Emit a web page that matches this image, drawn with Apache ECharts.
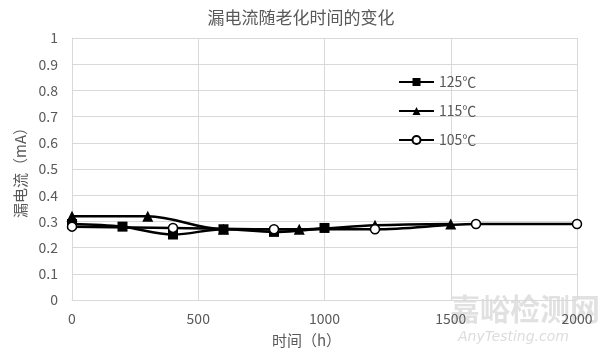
<!DOCTYPE html>
<html><head><meta charset="utf-8">
<script src="https://cdn.jsdelivr.net/npm/echarts@6/dist/echarts.min.js"></script>
<style>html,body{margin:0;padding:0;background:#fff}#c{width:602px;height:356px}</style>
</head><body><div id="c"></div>
<script>
var title = '漏电流随老化时间的变化';
var xName = '时间（h）';
var yName = '漏电流（mA）';
var names = ['125℃', '115℃', '105℃'];
var x125 = [0, 200, 400, 600, 800, 1000];
var y125 = [0.29, 0.28, 0.25, 0.27, 0.26, 0.275];
var x115 = [0, 300, 600, 900, 1200, 1500];
var y115 = [0.32, 0.32, 0.27, 0.27, 0.285, 0.29];
var x105 = [0, 400, 800, 1200, 1600, 2000];
var y105 = [0.28, 0.275, 0.27, 0.27, 0.29, 0.29];

function pairs(xs, ys){ return xs.map(function(v,i){return [v, ys[i]];}); }
var font = '"Noto Sans CJK SC",sans-serif';
var gray = '#595959';
var chart = echarts.init(document.getElementById('c'));
function ser(name, xs, ys, sym, size, fill){
  return {name:name, type:'line', smooth:0.35, data:pairs(xs,ys), symbol:sym, symbolSize:size,
    lineStyle:{color:'#000', width:2.5}, itemStyle:{color:fill, borderColor:'#000', borderWidth:fill==='#fff'?1.5:0},
    showAllSymbol:true, z: 3};
}
chart.setOption({
  animation:false,
  title:{text:title, left:'center', top:4, textStyle:{color:gray, fontSize:17, fontWeight:'normal', fontFamily:font}},
  grid:{left:72, right:25, top:38, bottom:56},
  legend:{orient:'vertical', left:393, top:70, itemGap:15, itemWidth:35, itemHeight:10,
    textStyle:{color:gray, fontSize:14, fontFamily:font, padding:[9,0,0,0]},
    data:names},
  xAxis:{type:'value', min:0, max:2000, interval:500, name:xName, nameLocation:'middle', nameGap:33,
    nameTextStyle:{color:gray, fontSize:15, fontFamily:font, padding:[0,36,0,0]},
    axisLine:{show:true, lineStyle:{color:'#d9d9d9'}}, axisTick:{show:false},
    axisLabel:{color:gray, fontSize:14, margin:12, fontFamily:font, formatter:function(v){return String(v);}},
    splitLine:{show:true, lineStyle:{color:'#d9d9d9'}}},
  yAxis:{type:'value', min:0, max:1, interval:0.1, name:yName, nameLocation:'middle', nameGap:44,
    nameTextStyle:{color:gray, fontSize:15, fontFamily:font},
    axisLine:{show:true, lineStyle:{color:'#d9d9d9'}}, axisTick:{show:false},
    axisLabel:{color:gray, fontSize:14, margin:14, fontFamily:font, formatter:function(v){return String(+v.toFixed(1));}},
    splitLine:{show:true, lineStyle:{color:'#d9d9d9'}}},
  graphic:[
    {type:'text', left:450, top:294, z:0, style:{text:'嘉峪检测网', fill:'rgba(205,205,205,0.6)', font:'bold 30px "Noto Sans CJK SC"'}},
    {type:'text', left:458, top:330, z:0, style:{text:'AnyTesting.com', fill:'rgba(205,205,205,0.7)', font:'italic 14px "DejaVu Sans"'}}
  ],
  series:[
    ser(names[0], x125, y125, 'rect', 10, '#000'),
    ser(names[1], x115, y115, 'triangle', 11, '#000'),
    ser(names[2], x105, y105, 'circle', 9, '#fff')
  ]
});
</script></body></html>
